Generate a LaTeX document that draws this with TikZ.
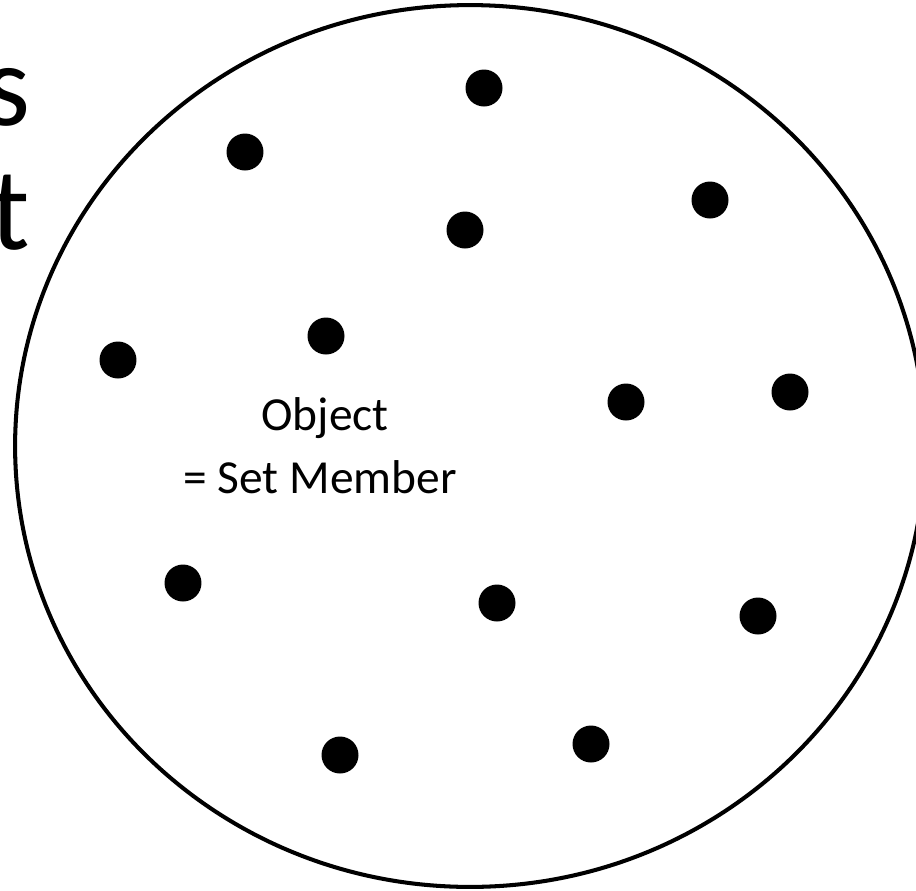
\documentclass[tikz,border=0pt]{standalone}
\usepackage{fontspec}
\setmainfont{Carlito}
\tikzset{
  memberdot/.style={circle, fill=black, inner sep=0pt, minimum size=0.74cm},
  setline/.style={line width=2.3pt},
  innertext/.style={font=\fontsize{27}{32}\selectfont, inner sep=0pt, anchor=base},
  titletext/.style={font=\fontsize{67}{70}\selectfont, inner sep=0pt, anchor=base east}
}
\begin{document}
\begin{tikzpicture}[x=0.02cm, y=-0.02cm]
    \useasboundingbox (0,0) rectangle (916,890);
    % cropped title on the left
    \node[titletext] (ts) at (31,125) {s};
    \node[titletext] (tt) at (30,249) {t};
    % the set
    \draw[setline] (470,446) ellipse [x radius=9.1cm, y radius=8.82cm];
    % its members
    \foreach \i/\x/\y in {1/484/88, 2/245/152, 3/710/200, 4/465/230,
                          5/326/336, 6/118/360, 7/626/402, 8/790/392,
                          9/183/583, 10/497/603, 11/758/616, 12/340/755, 13/591/744} {
      \node[memberdot] (m\i) at (\x,\y) {};
    }
    \node[innertext] (obj) at (325,430) {Object};
    \node[innertext] (mem) at (320,493) {= Set Member};
  \end{tikzpicture}
\end{document}
